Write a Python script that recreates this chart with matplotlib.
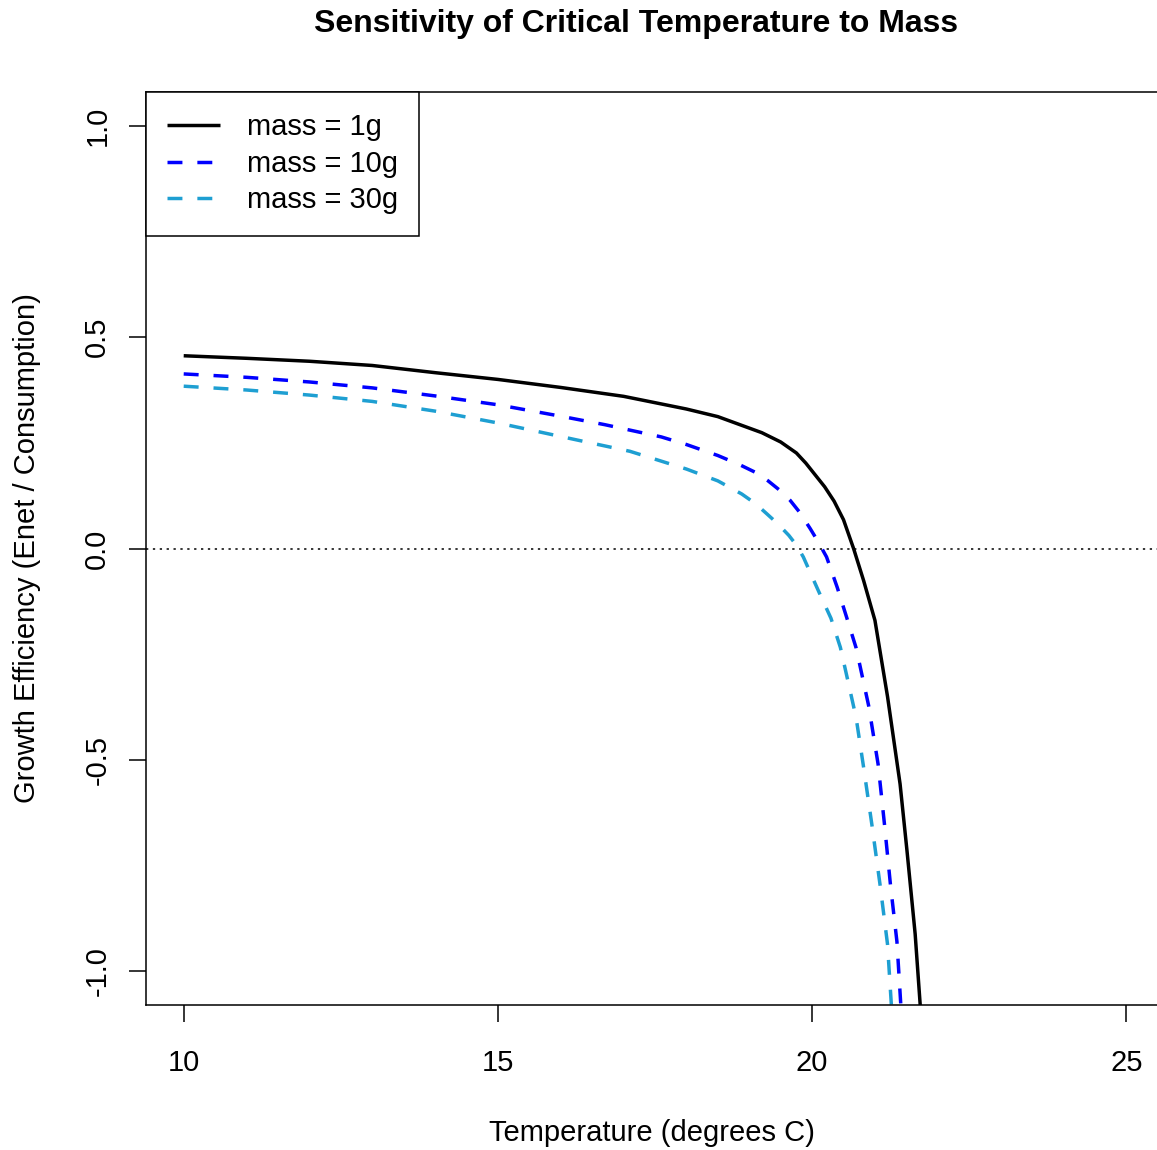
import numpy as np
import matplotlib.pyplot as plt

# ------------------#
# Data
# ------------------#

temp_1g = [10, 11, 12, 13, 14, 15, 16, 17, 18, 18.5, 18.85, 19.2, 19.5, 19.75,
           19.9, 20.05, 20.2, 20.35, 20.5, 20.66, 20.82, 21.0, 21.2, 21.4,
           21.51, 21.64, 21.73]
eff_1g = [0.456, 0.450, 0.443, 0.433, 0.416, 0.400, 0.381, 0.360, 0.330, 0.312,
          0.293, 0.274, 0.252, 0.226, 0.202, 0.174, 0.146, 0.112, 0.068, 0.0,
          -0.076, -0.170, -0.350, -0.557, -0.715, -0.912, -1.10]

temp_10g = [10, 11, 12, 13, 14, 15, 16, 16.7, 17.6, 18.0, 18.5, 18.85, 19.1,
            19.3, 19.5, 19.65, 19.8, 19.97, 20.1, 20.23, 20.4, 20.55, 20.7,
            20.9, 21.05, 21.15, 21.25, 21.35, 21.42]
eff_10g = [0.413, 0.405, 0.394, 0.380, 0.361, 0.340, 0.313, 0.293, 0.264, 0.246,
           0.220, 0.198, 0.180, 0.160, 0.136, 0.114, 0.086, 0.047, 0.015, -0.020,
           -0.092, -0.163, -0.235, -0.372, -0.510, -0.650, -0.800, -0.930, -1.10]

temp_30g = [10, 11, 12, 13, 14, 15, 16.25, 17.1, 18.0, 18.5, 18.88, 19.1, 19.28,
            19.45, 19.63, 19.75, 19.86, 20.1, 20.3, 20.45, 20.58, 20.7, 20.82,
            20.95, 21.08, 21.2, 21.27]
eff_30g = [0.384, 0.375, 0.363, 0.348, 0.325, 0.297, 0.257, 0.230, 0.188, 0.160,
           0.129, 0.106, 0.082, 0.059, 0.031, 0.008, -0.020, -0.100, -0.165,
           -0.234, -0.320, -0.400, -0.518, -0.652, -0.794, -0.936, -1.10]

x_ticks = [10, 15, 20, 25]
y_ticks = [-1.0, -0.5, 0.0, 0.5, 1.0]
y_tick_labels = ["-1.0", "-0.5", "0.0", "0.5", "1.0"]

plt.rcParams['font.family'] = ['Liberation Sans', 'DejaVu Sans']

W, H = 1157, 1150
fig = plt.figure(figsize=(W / 100, H / 100), dpi=100)
# axes box: left 146px, right ~1164px (cut off), top 92px, bottom 1005px
ax = fig.add_axes([146 / W, 1 - 1005 / H, (1164 - 146) / W, (1005 - 92) / H])

ax.plot(temp_1g, eff_1g, color='black', lw=2.5, solid_capstyle='butt',
        label='mass = 1g')
ax.plot(temp_10g, eff_10g, color='#0000ff', lw=2.5, dashes=(4.3, 4.3),
        dash_capstyle='butt', label='mass = 10g')
ax.plot(temp_30g, eff_30g, color='#1e9fd2', lw=2.5, dashes=(4.3, 4.3),
        dash_capstyle='butt', label='mass = 30g')
ax.axhline(0, color='black', lw=1.1, linestyle=(0, (1.5, 3)))

ax.set_xlim(9.4, 25.6)
ax.set_ylim(-1.08, 1.08)
ax.set_xticks(x_ticks)
ax.set_yticks(y_ticks)
ax.set_yticklabels(y_tick_labels, rotation=90, va='center')
ax.tick_params(axis='both', direction='out', length=12, width=1.1,
               labelsize=21, colors='black')
ax.tick_params(axis='x', pad=20)
ax.tick_params(axis='y', pad=13)
for s in ax.spines.values():
    s.set_linewidth(1.1)

fig.text(652 / W, 1 - 1133 / H, "Temperature (degrees C)", ha='center',
         va='center', fontsize=21)
fig.text(27 / W, 1 - 548 / H, "Growth Efficiency (Enet / Consumption)",
         ha='center', va='center', rotation=90, fontsize=21)
fig.text(636 / W, 1 - 24 / H, "Sensitivity of Critical Temperature to Mass",
         ha='center', va='center', fontsize=23, fontweight='bold')

leg = ax.legend(loc='upper left', borderaxespad=0, fontsize=21, fancybox=False,
                handlelength=1.8, handletextpad=0.95, labelspacing=0.3,
                borderpad=0.72, framealpha=1)
leg.get_frame().set_edgecolor('black')
leg.get_frame().set_linewidth(1.1)

plt.savefig("out.png", dpi=100)
